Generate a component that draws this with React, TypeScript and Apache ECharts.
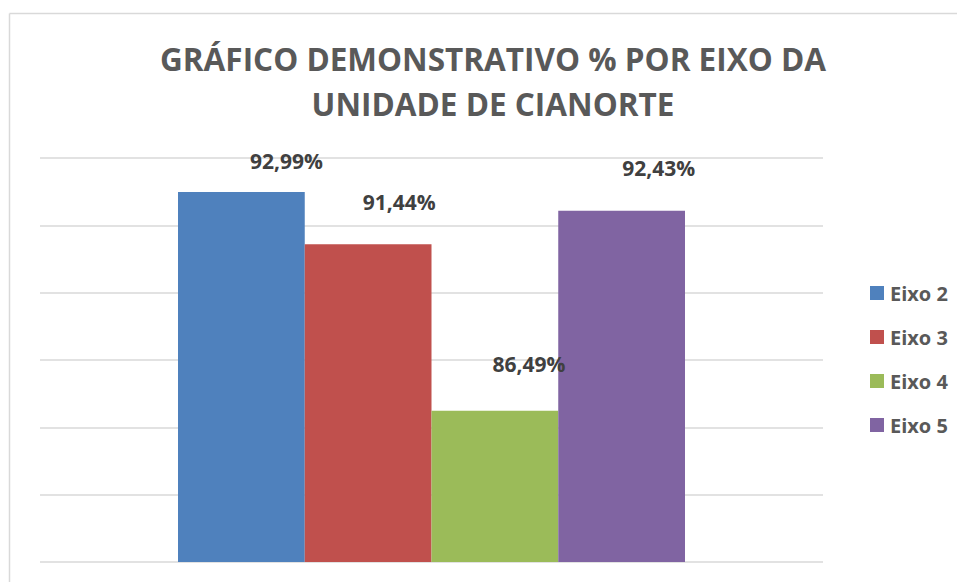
import React, { useEffect, useRef } from "react";
import * as echarts from "echarts";

const categories = ["Eixo 2", "Eixo 3", "Eixo 4", "Eixo 5"];
const values = [92.99, 91.44, 86.49, 92.43];
const titleLines = ["GRÁFICO DEMONSTRATIVO % POR EIXO DA", "UNIDADE DE CIANORTE"];
const axisMin = 82;
const axisMax = 94;
const axisInterval = 2;

const colors = ["#4F81BD", "#C0504D", "#9BBB59", "#8064A2"];
// label placement (style), per series: [dx, distance above bar]
const labelDx = [45, 31, 34, 37];
const labelDist = [21, 32, 36, 32];

const FONT = '"Open Sans", "Noto Sans", sans-serif';

export default function App() {
  const ref = useRef<HTMLDivElement>(null);
  useEffect(() => {
    if (!ref.current) return;
    const chart = echarts.init(ref.current, null, { renderer: "svg" });
    const fmt = (v: number) => v.toFixed(2).replace(".", ",") + "%";
    chart.setOption({
      animation: false,
      backgroundColor: "#ffffff",
      grid: { left: 40, right: 134, top: 158, bottom: 20, containLabel: false },
      xAxis: {
        type: "category",
        data: ["Unidade de Cianorte"],
        axisLine: { show: false },
        axisTick: { show: false },
        axisLabel: { show: false },
      },
      yAxis: {
        type: "value",
        min: axisMin,
        max: axisMax,
        interval: axisInterval,
        axisLabel: { show: false },
        axisLine: { show: false },
        axisTick: { show: false },
        splitLine: { lineStyle: { color: "#d9d9d9", width: 1.5 } },
      },
      legend: {
        orient: "vertical",
        left: 865,
        top: 278,
        itemWidth: 14,
        itemHeight: 14,
        itemGap: 24,
        icon: "rect",
        data: categories,
        textStyle: { color: "#595959", fontSize: 20, fontWeight: "bold", fontFamily: FONT, padding: [0, 0, 0, 1] },
      },
      series: categories.map((name, i) => ({
        name,
        type: "bar",
        data: [values[i]],
        barGap: "0%",
        barCategoryGap: "35.25%",
        itemStyle: { color: colors[i] },
        label: {
          show: true,
          position: "top",
          distance: labelDist[i],
          offset: [labelDx[i], 0],
          formatter: (p: any) => fmt(p.value),
          color: "#404040",
          fontSize: 21,
          fontWeight: "bold",
          fontFamily: FONT,
        },
      })),
      graphic: [
        { type: "line", shape: { x1: 9.5, y1: 13.5, x2: 957, y2: 13.5 }, style: { stroke: "#d9d9d9", lineWidth: 1.5 } },
        { type: "line", shape: { x1: 9.5, y1: 13.5, x2: 9.5, y2: 582 }, style: { stroke: "#d9d9d9", lineWidth: 1.5 } },
        ...titleLines.map((t, i) => ({
          type: "text",
          x: 493,
          y: 58 + i * 45,
          style: {
            text: t,
            align: "center",
            verticalAlign: "middle",
            fill: "#595959",
            fontSize: 31.5,
            fontWeight: "bold",
            fontFamily: FONT,
          },
        })),
      ],
    });
    return () => chart.dispose();
  }, []);
  return <div ref={ref} style={{ position: "fixed", left: 0, top: 0, width: 957, height: 582 }} />;
}
